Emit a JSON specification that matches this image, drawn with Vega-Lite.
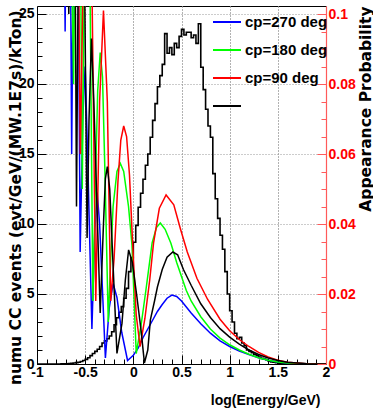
{
  "$schema": "https://vega.github.io/schema/vega-lite/v6.json",
  "width": 289,
  "height": 358,
  "autosize": "none",
  "padding": {"left": 37, "top": 6, "right": 47, "bottom": 44},
  "background": "white",
  "config": {"font": "Liberation Sans", "view": {"stroke": "black", "strokeWidth": 1}, "axis": {"labelOverlap": false}},
  "datasets": {
    "hist": [
      {"x": -1.0, "n": 0}, {"x": -0.75, "n": 0.01}, {"x": -0.725, "n": 0.015}, {"x": -0.7, "n": 0.02}, {"x": -0.675, "n": 0.03},
      {"x": -0.65, "n": 0.05}, {"x": -0.625, "n": 0.07}, {"x": -0.6, "n": 0.1}, {"x": -0.575, "n": 0.13}, {"x": -0.55, "n": 0.18},
      {"x": -0.525, "n": 0.25}, {"x": -0.5, "n": 0.33}, {"x": -0.475, "n": 0.45}, {"x": -0.45, "n": 0.6}, {"x": -0.425, "n": 0.75},
      {"x": -0.4, "n": 0.9}, {"x": -0.375, "n": 1.05}, {"x": -0.35, "n": 1.25}, {"x": -0.325, "n": 1.5}, {"x": -0.3, "n": 1.65},
      {"x": -0.275, "n": 1.8}, {"x": -0.25, "n": 2.0}, {"x": -0.225, "n": 2.3}, {"x": -0.2, "n": 2.8}, {"x": -0.175, "n": 3.3},
      {"x": -0.15, "n": 3.7}, {"x": -0.125, "n": 4.1}, {"x": -0.1, "n": 4.7}, {"x": -0.075, "n": 5.4}, {"x": -0.05, "n": 6.6},
      {"x": -0.025, "n": 7.6}, {"x": 0.0, "n": 8.7}, {"x": 0.025, "n": 9.9}, {"x": 0.05, "n": 11.2}, {"x": 0.075, "n": 12.2},
      {"x": 0.1, "n": 13.2}, {"x": 0.125, "n": 14.2}, {"x": 0.15, "n": 15.0}, {"x": 0.175, "n": 16.2}, {"x": 0.2, "n": 17.4},
      {"x": 0.225, "n": 18.6}, {"x": 0.25, "n": 19.8}, {"x": 0.275, "n": 20.6}, {"x": 0.3, "n": 21.4}, {"x": 0.325, "n": 23.6},
      {"x": 0.35, "n": 22.2}, {"x": 0.375, "n": 22.6}, {"x": 0.4, "n": 22.1}, {"x": 0.425, "n": 22.9}, {"x": 0.45, "n": 22.6},
      {"x": 0.475, "n": 23.4}, {"x": 0.5, "n": 23.9}, {"x": 0.525, "n": 23.5}, {"x": 0.55, "n": 23.7}, {"x": 0.575, "n": 23.7},
      {"x": 0.6, "n": 23.3}, {"x": 0.625, "n": 23.5}, {"x": 0.65, "n": 22.9}, {"x": 0.675, "n": 24.3}, {"x": 0.7, "n": 21.2},
      {"x": 0.725, "n": 19.6}, {"x": 0.75, "n": 18.2}, {"x": 0.775, "n": 17.0}, {"x": 0.8, "n": 16.2}, {"x": 0.825, "n": 13.6},
      {"x": 0.85, "n": 11.8}, {"x": 0.875, "n": 10.4}, {"x": 0.9, "n": 9.2}, {"x": 0.925, "n": 8.2}, {"x": 0.95, "n": 6.6},
      {"x": 0.975, "n": 5.0}, {"x": 1.0, "n": 3.8}, {"x": 1.025, "n": 3.0}, {"x": 1.05, "n": 2.2}, {"x": 1.075, "n": 1.8},
      {"x": 1.1, "n": 1.9}, {"x": 1.125, "n": 1.5}, {"x": 1.15, "n": 1.3}, {"x": 1.175, "n": 1.0}, {"x": 1.2, "n": 0.9},
      {"x": 1.225, "n": 0.8}, {"x": 1.25, "n": 0.7}, {"x": 1.275, "n": 0.6}, {"x": 1.3, "n": 0.5}, {"x": 1.325, "n": 0.4},
      {"x": 1.35, "n": 0.35}, {"x": 1.375, "n": 0.3}, {"x": 1.4, "n": 0.2}, {"x": 1.425, "n": 0.15}, {"x": 1.45, "n": 0.12},
      {"x": 1.475, "n": 0.1}, {"x": 1.5, "n": 0.06}, {"x": 1.525, "n": 0.04}, {"x": 1.55, "n": 0.02}, {"x": 1.575, "n": 0.01},
      {"x": 1.6, "n": 0}, {"x": 2.0, "n": 0}
    ],
    "prob": [
      {"cp": "cp=270 deg", "x": -0.76, "p": 0.25}, {"cp": "cp=270 deg", "x": -0.708, "p": 0.095}, {"cp": "cp=270 deg", "x": -0.675, "p": 0.22},
      {"cp": "cp=270 deg", "x": -0.64, "p": 0.06}, {"cp": "cp=270 deg", "x": -0.595, "p": 0.22}, {"cp": "cp=270 deg", "x": -0.552, "p": 0.032},
      {"cp": "cp=270 deg", "x": -0.525, "p": 0.07}, {"cp": "cp=270 deg", "x": -0.5, "p": 0.085}, {"cp": "cp=270 deg", "x": -0.475, "p": 0.06},
      {"cp": "cp=270 deg", "x": -0.43, "p": 0.01}, {"cp": "cp=270 deg", "x": -0.4, "p": 0.038}, {"cp": "cp=270 deg", "x": -0.375, "p": 0.049},
      {"cp": "cp=270 deg", "x": -0.35, "p": 0.04}, {"cp": "cp=270 deg", "x": -0.29, "p": 0.0017}, {"cp": "cp=270 deg", "x": -0.25, "p": 0.016},
      {"cp": "cp=270 deg", "x": -0.21, "p": 0.023}, {"cp": "cp=270 deg", "x": -0.17, "p": 0.019}, {"cp": "cp=270 deg", "x": -0.12, "p": 0.009},
      {"cp": "cp=270 deg", "x": -0.06, "p": 0.001}, {"cp": "cp=270 deg", "x": 0.0, "p": 0.0025}, {"cp": "cp=270 deg", "x": 0.05, "p": 0.0045},
      {"cp": "cp=270 deg", "x": 0.1, "p": 0.0075}, {"cp": "cp=270 deg", "x": 0.15, "p": 0.01}, {"cp": "cp=270 deg", "x": 0.2, "p": 0.0125},
      {"cp": "cp=270 deg", "x": 0.25, "p": 0.015}, {"cp": "cp=270 deg", "x": 0.3, "p": 0.017}, {"cp": "cp=270 deg", "x": 0.35, "p": 0.0188},
      {"cp": "cp=270 deg", "x": 0.4, "p": 0.0197}, {"cp": "cp=270 deg", "x": 0.45, "p": 0.0193}, {"cp": "cp=270 deg", "x": 0.5, "p": 0.018},
      {"cp": "cp=270 deg", "x": 0.55, "p": 0.0163}, {"cp": "cp=270 deg", "x": 0.6, "p": 0.0146}, {"cp": "cp=270 deg", "x": 0.7, "p": 0.0115},
      {"cp": "cp=270 deg", "x": 0.8, "p": 0.0088}, {"cp": "cp=270 deg", "x": 0.9, "p": 0.0066}, {"cp": "cp=270 deg", "x": 1.0, "p": 0.005},
      {"cp": "cp=270 deg", "x": 1.1, "p": 0.0037}, {"cp": "cp=270 deg", "x": 1.2, "p": 0.0027}, {"cp": "cp=270 deg", "x": 1.3, "p": 0.0018},
      {"cp": "cp=270 deg", "x": 1.4, "p": 0.0011}, {"cp": "cp=270 deg", "x": 1.5, "p": 0.0006}, {"cp": "cp=270 deg", "x": 1.6, "p": 0.0003},
      {"cp": "cp=270 deg", "x": 1.8, "p": 0.0001}, {"cp": "cp=270 deg", "x": 2.0, "p": 0.0},

      {"cp": "cp=180 deg", "x": -0.7, "p": 0.22}, {"cp": "cp=180 deg", "x": -0.62, "p": 0.08}, {"cp": "cp=180 deg", "x": -0.575, "p": 0.22},
      {"cp": "cp=180 deg", "x": -0.53, "p": 0.05}, {"cp": "cp=180 deg", "x": -0.48, "p": 0.2}, {"cp": "cp=180 deg", "x": -0.42, "p": 0.018},
      {"cp": "cp=180 deg", "x": -0.395, "p": 0.05}, {"cp": "cp=180 deg", "x": -0.37, "p": 0.078}, {"cp": "cp=180 deg", "x": -0.344, "p": 0.089},
      {"cp": "cp=180 deg", "x": -0.32, "p": 0.082}, {"cp": "cp=180 deg", "x": -0.295, "p": 0.055}, {"cp": "cp=180 deg", "x": -0.26, "p": 0.012},
      {"cp": "cp=180 deg", "x": -0.235, "p": 0.03}, {"cp": "cp=180 deg", "x": -0.21, "p": 0.045}, {"cp": "cp=180 deg", "x": -0.17, "p": 0.055},
      {"cp": "cp=180 deg", "x": -0.135, "p": 0.0573}, {"cp": "cp=180 deg", "x": -0.1, "p": 0.055}, {"cp": "cp=180 deg", "x": -0.05, "p": 0.045},
      {"cp": "cp=180 deg", "x": -0.014, "p": 0.034}, {"cp": "cp=180 deg", "x": 0.03, "p": 0.003}, {"cp": "cp=180 deg", "x": 0.08, "p": 0.011},
      {"cp": "cp=180 deg", "x": 0.13, "p": 0.021}, {"cp": "cp=180 deg", "x": 0.195, "p": 0.0346}, {"cp": "cp=180 deg", "x": 0.24, "p": 0.039},
      {"cp": "cp=180 deg", "x": 0.28, "p": 0.0403}, {"cp": "cp=180 deg", "x": 0.33, "p": 0.0385}, {"cp": "cp=180 deg", "x": 0.39, "p": 0.0345},
      {"cp": "cp=180 deg", "x": 0.45, "p": 0.029}, {"cp": "cp=180 deg", "x": 0.5, "p": 0.025}, {"cp": "cp=180 deg", "x": 0.55, "p": 0.021},
      {"cp": "cp=180 deg", "x": 0.6, "p": 0.018}, {"cp": "cp=180 deg", "x": 0.7, "p": 0.0135}, {"cp": "cp=180 deg", "x": 0.8, "p": 0.01},
      {"cp": "cp=180 deg", "x": 0.9, "p": 0.0074}, {"cp": "cp=180 deg", "x": 1.0, "p": 0.0055}, {"cp": "cp=180 deg", "x": 1.1, "p": 0.004},
      {"cp": "cp=180 deg", "x": 1.2, "p": 0.0028}, {"cp": "cp=180 deg", "x": 1.3, "p": 0.0018}, {"cp": "cp=180 deg", "x": 1.4, "p": 0.0011},
      {"cp": "cp=180 deg", "x": 1.5, "p": 0.0006}, {"cp": "cp=180 deg", "x": 1.6, "p": 0.0003}, {"cp": "cp=180 deg", "x": 1.8, "p": 0.0001},
      {"cp": "cp=180 deg", "x": 2.0, "p": 0.0},

      {"cp": "cp=90 deg", "x": -0.74, "p": 0.25}, {"cp": "cp=90 deg", "x": -0.68, "p": 0.11}, {"cp": "cp=90 deg", "x": -0.62, "p": 0.25},
      {"cp": "cp=90 deg", "x": -0.55, "p": 0.06}, {"cp": "cp=90 deg", "x": -0.47, "p": 0.2}, {"cp": "cp=90 deg", "x": -0.39, "p": 0.018},
      {"cp": "cp=90 deg", "x": -0.35, "p": 0.075}, {"cp": "cp=90 deg", "x": -0.31, "p": 0.101}, {"cp": "cp=90 deg", "x": -0.27, "p": 0.075},
      {"cp": "cp=90 deg", "x": -0.235, "p": 0.018}, {"cp": "cp=90 deg", "x": -0.2, "p": 0.03}, {"cp": "cp=90 deg", "x": -0.16, "p": 0.052},
      {"cp": "cp=90 deg", "x": -0.13, "p": 0.064}, {"cp": "cp=90 deg", "x": -0.1, "p": 0.068}, {"cp": "cp=90 deg", "x": -0.07, "p": 0.065},
      {"cp": "cp=90 deg", "x": -0.04, "p": 0.054}, {"cp": "cp=90 deg", "x": -0.01, "p": 0.036}, {"cp": "cp=90 deg", "x": 0.03, "p": 0.014},
      {"cp": "cp=90 deg", "x": 0.07, "p": 0.005}, {"cp": "cp=90 deg", "x": 0.12, "p": 0.013}, {"cp": "cp=90 deg", "x": 0.17, "p": 0.024},
      {"cp": "cp=90 deg", "x": 0.21, "p": 0.0346}, {"cp": "cp=90 deg", "x": 0.27, "p": 0.0445}, {"cp": "cp=90 deg", "x": 0.34, "p": 0.0483},
      {"cp": "cp=90 deg", "x": 0.42, "p": 0.0455}, {"cp": "cp=90 deg", "x": 0.49, "p": 0.0385}, {"cp": "cp=90 deg", "x": 0.56, "p": 0.032},
      {"cp": "cp=90 deg", "x": 0.66, "p": 0.0245}, {"cp": "cp=90 deg", "x": 0.77, "p": 0.0185}, {"cp": "cp=90 deg", "x": 0.9, "p": 0.0128},
      {"cp": "cp=90 deg", "x": 1.0, "p": 0.0095}, {"cp": "cp=90 deg", "x": 1.1, "p": 0.007}, {"cp": "cp=90 deg", "x": 1.2, "p": 0.005},
      {"cp": "cp=90 deg", "x": 1.3, "p": 0.0033}, {"cp": "cp=90 deg", "x": 1.4, "p": 0.002}, {"cp": "cp=90 deg", "x": 1.5, "p": 0.0011},
      {"cp": "cp=90 deg", "x": 1.6, "p": 0.0005}, {"cp": "cp=90 deg", "x": 1.8, "p": 0.0001}, {"cp": "cp=90 deg", "x": 2.0, "p": 0.0},

      {"cp": "cp=0 deg", "x": -0.73, "p": 0.25}, {"cp": "cp=0 deg", "x": -0.67, "p": 0.1}, {"cp": "cp=0 deg", "x": -0.63, "p": 0.25},
      {"cp": "cp=0 deg", "x": -0.59, "p": 0.045}, {"cp": "cp=0 deg", "x": -0.544, "p": 0.22}, {"cp": "cp=0 deg", "x": -0.48, "p": 0.036},
      {"cp": "cp=0 deg", "x": -0.46, "p": 0.07}, {"cp": "cp=0 deg", "x": -0.435, "p": 0.093}, {"cp": "cp=0 deg", "x": -0.41, "p": 0.075},
      {"cp": "cp=0 deg", "x": -0.344, "p": 0.0146}, {"cp": "cp=0 deg", "x": -0.31, "p": 0.04}, {"cp": "cp=0 deg", "x": -0.29, "p": 0.053},
      {"cp": "cp=0 deg", "x": -0.27, "p": 0.0564}, {"cp": "cp=0 deg", "x": -0.245, "p": 0.05}, {"cp": "cp=0 deg", "x": -0.21, "p": 0.028},
      {"cp": "cp=0 deg", "x": -0.17, "p": 0.003}, {"cp": "cp=0 deg", "x": -0.118, "p": 0.0116}, {"cp": "cp=0 deg", "x": -0.083, "p": 0.024},
      {"cp": "cp=0 deg", "x": -0.049, "p": 0.0326}, {"cp": "cp=0 deg", "x": -0.01, "p": 0.029}, {"cp": "cp=0 deg", "x": 0.038, "p": 0.019},
      {"cp": "cp=0 deg", "x": 0.08, "p": 0.0097}, {"cp": "cp=0 deg", "x": 0.115, "p": 0.0003}, {"cp": "cp=0 deg", "x": 0.15, "p": 0.004},
      {"cp": "cp=0 deg", "x": 0.177, "p": 0.0126}, {"cp": "cp=0 deg", "x": 0.22, "p": 0.018}, {"cp": "cp=0 deg", "x": 0.25, "p": 0.022},
      {"cp": "cp=0 deg", "x": 0.3, "p": 0.027}, {"cp": "cp=0 deg", "x": 0.35, "p": 0.0305}, {"cp": "cp=0 deg", "x": 0.41, "p": 0.032},
      {"cp": "cp=0 deg", "x": 0.46, "p": 0.0312}, {"cp": "cp=0 deg", "x": 0.52, "p": 0.027}, {"cp": "cp=0 deg", "x": 0.6, "p": 0.0225},
      {"cp": "cp=0 deg", "x": 0.7, "p": 0.0172}, {"cp": "cp=0 deg", "x": 0.8, "p": 0.0133}, {"cp": "cp=0 deg", "x": 0.9, "p": 0.0101},
      {"cp": "cp=0 deg", "x": 1.0, "p": 0.0077}, {"cp": "cp=0 deg", "x": 1.1, "p": 0.0057}, {"cp": "cp=0 deg", "x": 1.2, "p": 0.004},
      {"cp": "cp=0 deg", "x": 1.3, "p": 0.0027}, {"cp": "cp=0 deg", "x": 1.4, "p": 0.0017}, {"cp": "cp=0 deg", "x": 1.5, "p": 0.001},
      {"cp": "cp=0 deg", "x": 1.6, "p": 0.0005}, {"cp": "cp=0 deg", "x": 1.8, "p": 0.0001}, {"cp": "cp=0 deg", "x": 2.0, "p": 0.0}
    ]
  },
  "layer": [
    {
      "data": {"name": "hist"},
      "mark": {"type": "line", "interpolate": "step-after", "color": "black", "strokeWidth": 1.6, "clip": true},
      "encoding": {
        "x": {
          "field": "x", "type": "quantitative",
          "scale": {"domain": [-1, 2], "nice": false, "zero": false},
          "axis": {
            "values": [-1, -0.5, 0, 0.5, 1, 1.5, 2],
            "labelExpr": "'' + datum.value",
            "tickSize": -9,
            "tickColor": "black", "domainColor": "black",
            "grid": true, "gridColor": "#999999", "gridDash": [1, 2],
            "labelFlush": false, "labelOverlap": false, "labelBound": false, "labelSeparation": -40,
            "labelPadding": 10, "labelFontSize": 14, "labelFontWeight": "bold", "labelColor": "black", "labelFont": "Liberation Sans",
            "title": "log(Energy/GeV)", "titleFont": "Liberation Sans", "titleFontSize": 14, "titleFontWeight": "bold", "titleColor": "black",
            "titleAlign": "right", "titleBaseline": "middle", "titleX": 283, "titleY": 36
          }
        },
        "y": {
          "field": "n", "type": "quantitative",
          "scale": {"domain": [0, 25.57], "nice": false, "zero": false},
          "axis": {
            "values": [0, 1, 2, 3, 4, 5, 6, 7, 8, 9, 10, 11, 12, 13, 14, 15, 16, 17, 18, 19, 20, 21, 22, 23, 24, 25],
            "labelExpr": "datum.value % 5 == 0 ? '' + datum.value : ''",
            "tickSize": {"condition": {"test": "datum.value % 5 == 0", "value": -9}, "value": -5},
            "tickColor": "black", "domainColor": "black",
            "grid": true, "gridColor": "#999999", "gridDash": [1, 2],
            "gridOpacity": {"condition": {"test": "datum.value % 5 == 0 && datum.value > 0", "value": 1}, "value": 0},
            "labelOverlap": false, "labelBound": false, "labelFlush": false,
            "labelPadding": 12, "labelFontSize": 14, "labelFontWeight": "bold", "labelColor": "black", "labelFont": "Liberation Sans",
            "title": "numu CC events (evt/GeV/(MW.1E7s)/kTon)", "titleFont": "DejaVu Sans", "titleFontSize": 15.5, "titleFontWeight": "bold", "titleColor": "black",
            "titleAngle": 270, "titleAlign": "right", "titleBaseline": "middle", "titleX": -22, "titleY": 4
          }
        }
      }
    },
    {
      "data": {"name": "prob"},
      "mark": {"type": "line", "strokeWidth": 1.5, "clip": true},
      "encoding": {
        "x": {
          "field": "x", "type": "quantitative",
          "scale": {"domain": [-1, 2], "nice": false, "zero": false},
          "axis": {
            "orient": "bottom",
            "values": [-0.9, -0.8, -0.7, -0.6, -0.5, -0.4, -0.3, -0.2, -0.1, 0, 0.1, 0.2, 0.3, 0.4, 0.5, 0.6, 0.7, 0.8, 0.9, 1, 1.1, 1.2, 1.3, 1.4, 1.5, 1.6, 1.7, 1.8, 1.9],
            "labels": false, "domain": false, "title": null,
            "tickSize": -5, "tickColor": "black",
            "tickOpacity": {"condition": {"test": "round(datum.value*10) % 5 == 0", "value": 0}, "value": 1},
            "grid": true, "gridColor": "#999999", "gridDash": [1, 2],
            "gridOpacity": {"condition": {"test": "round(datum.value*10) % 5 == 0", "value": 1}, "value": 0}
          }
        },
        "y": {
          "field": "p", "type": "quantitative",
          "scale": {"domain": [0, 0.10229], "nice": false, "zero": false},
          "axis": {
            "orient": "right",
            "values": [0, 0.005, 0.01, 0.015, 0.02, 0.025, 0.03, 0.035, 0.04, 0.045, 0.05, 0.055, 0.06, 0.065, 0.07, 0.075, 0.08, 0.085, 0.09, 0.095, 0.1],
            "labelExpr": "round(datum.value*1000) % 20 == 0 ? '' + datum.value : ''",
            "tickSize": {"condition": {"test": "round(datum.value*1000) % 20 == 0", "value": -9}, "value": -5},
            "tickColor": "#ff5a5a", "domainColor": "#ff5a5a", "domainWidth": 1.2,
            "grid": false,
            "labelOverlap": false, "labelBound": false, "labelFlush": false,
            "labelPadding": 11, "labelFontSize": 14, "labelFontWeight": "bold", "labelColor": "#ff0000", "labelFont": "Liberation Sans",
            "title": "Appearance Probability", "titleFont": "DejaVu Sans", "titleFontSize": 15.5, "titleFontWeight": "bold", "titleColor": "black",
            "titleAngle": 270, "titleAlign": "right", "titleBaseline": "middle", "titleX": 39, "titleY": 0
          }
        },
        "color": {
          "field": "cp", "type": "nominal",
          "scale": {"domain": ["cp=270 deg", "cp=180 deg", "cp=90 deg", "cp=0 deg"], "range": ["#0000ff", "#00ff00", "#ff0000", "#000000"]},
          "legend": {
            "orient": "none", "legendX": 175, "legendY": 1, "title": null,
            "symbolType": "stroke", "symbolSize": 784, "symbolStrokeWidth": 2,
            "labelFont": "Liberation Sans", "labelFontSize": 15, "labelFontWeight": "bold", "labelColor": "black",
            "labelOffset": 3, "rowPadding": 5, "padding": 0,
            "labelExpr": "datum.label == 'cp=0 deg' ? '' : datum.label"
          }
        }
      }
    }
  ],
  "resolve": {"scale": {"y": "independent", "x": "independent"}}
}
